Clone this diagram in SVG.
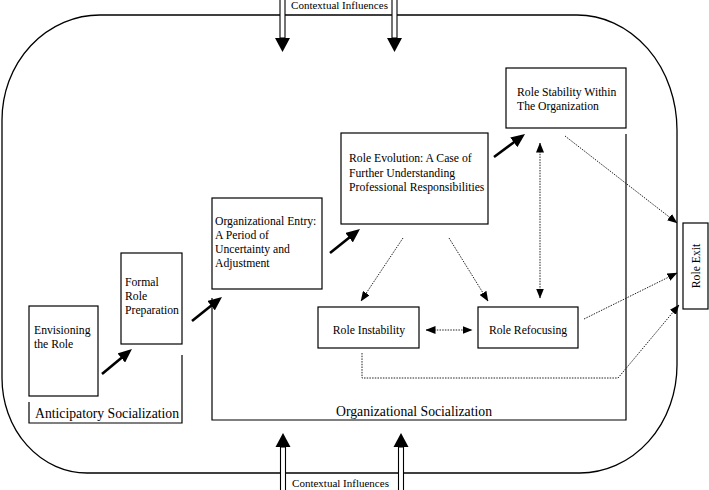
<svg xmlns="http://www.w3.org/2000/svg" width="709" height="490" viewBox="0 0 709 490">
<style>
  text { font-family: "Liberation Serif", "Times New Roman", serif; fill: #000; }
  .t { font-size: 11.7px; }
  .lbl { font-size: 13.7px; }
  .ci { font-size: 11px; }
  .box { fill: #fff; stroke: #000; stroke-width: 1.2; }
  .thick { stroke: #000; stroke-width: 2.6; fill: none; marker-end: url(#bigHead); }
  .dot { stroke: #222; stroke-width: 1; stroke-dasharray: 1.5 1.2; fill: none; }
  .brk { stroke: #000; stroke-width: 1.2; fill: none; }
  .shaft { fill: #fff; stroke: #000; stroke-width: 1.1; }
</style>
<defs>
  <marker id="bigHead" markerUnits="userSpaceOnUse" markerWidth="14" markerHeight="12" refX="4" refY="6" orient="auto">
    <path d="M0,0 L14,6 L0,12 z" fill="#000"/>
  </marker>
  <marker id="smHead" markerUnits="userSpaceOnUse" markerWidth="10" markerHeight="8" refX="9.5" refY="4" orient="auto-start-reverse">
    <path d="M0,0 L10,4 L0,8 z" fill="#000"/>
  </marker>
</defs>
<rect width="709" height="490" fill="#fff"/>

<g id="outer">
  <path d="M100,15 L577,15 A100,115 0 0 1 677,130 L677,365 A97,108 0 0 1 580,473 L87,473 A85,95 0 0 1 2,378 L2,120 A98,105 0 0 1 100,15 Z" fill="none" stroke="#000" stroke-width="1.3"/>
</g>

<g id="context-top">
  <rect class="shaft" x="280" y="-2" width="5" height="40"/>
  <path d="M275,38 L290,38 L282.5,52 z" fill="#000"/>
  <rect class="shaft" x="392" y="-2" width="5" height="40"/>
  <path d="M387,38 L402,38 L394.5,52 z" fill="#000"/>
  <text class="ci" x="339.5" y="9" text-anchor="middle">Contextual Influences</text>
</g>

<g id="context-bottom">
  <rect class="shaft" x="280.5" y="447" width="5" height="46"/>
  <path d="M275.5,447 L290.5,447 L283,433 z" fill="#000"/>
  <rect class="shaft" x="398.5" y="447" width="5" height="46"/>
  <path d="M393.5,447 L408.5,447 L401,433 z" fill="#000"/>
  <text class="ci" x="340.5" y="487" text-anchor="middle">Contextual Influences</text>
</g>

<g id="anticipatory-socialization">
  <path class="brk" d="M29,402 L29,423 L182,423 L182,355"/>
  <text class="lbl" x="35" y="418">Anticipatory Socialization</text>
</g>

<g id="organizational-socialization">
  <path class="brk" d="M212,298 L212,420 L626,420 L626,134"/>
  <text class="lbl" x="414" y="416" text-anchor="middle">Organizational Socialization</text>
</g>

<g id="envisioning">
  <rect class="box" x="29" y="306" width="69" height="90"/>
  <text class="t" x="34" y="334">Envisioning</text>
  <text class="t" x="34" y="348">the Role</text>
</g>

<g id="formal-prep">
  <rect class="box" x="121" y="253" width="61" height="91"/>
  <text class="t" x="125" y="286">Formal</text>
  <text class="t" x="125" y="300">Role</text>
  <text class="t" x="125" y="314">Preparation</text>
</g>

<g id="org-entry">
  <rect class="box" x="212" y="198" width="110" height="91"/>
  <text class="t" x="215" y="225">Organizational Entry:</text>
  <text class="t" x="215" y="239">A Period of</text>
  <text class="t" x="215" y="253">Uncertainty and</text>
  <text class="t" x="215" y="267">Adjustment</text>
</g>

<g id="role-evolution">
  <rect class="box" x="341" y="133" width="147" height="91"/>
  <text class="t" x="349" y="162">Role Evolution: A Case of</text>
  <text class="t" x="349" y="176.5">Further Understanding</text>
  <text class="t" x="349" y="191">Professional Responsibilities</text>
</g>

<g id="role-stability">
  <rect class="box" x="506" y="68" width="120" height="60"/>
  <text class="t" x="517" y="96">Role Stability Within</text>
  <text class="t" x="517" y="110">The Organization</text>
</g>

<g id="role-instability">
  <rect class="box" x="318" y="307" width="101" height="41"/>
  <text class="t" x="369" y="334" text-anchor="middle">Role Instability</text>
</g>

<g id="role-refocusing">
  <rect class="box" x="478" y="307" width="100" height="41"/>
  <text class="t" x="528" y="334" text-anchor="middle">Role Refocusing</text>
</g>

<g id="role-exit">
  <rect class="box" x="683" y="223" width="25" height="86"/>
  <text class="t" transform="translate(700,266) rotate(-90)" text-anchor="middle">Role Exit</text>
</g>

<g id="connectors">
  <line class="thick" x1="102" y1="374" x2="124.3" y2="355.4"/>
  <line class="thick" x1="192" y1="321" x2="214.2" y2="303.2"/>
  <line class="thick" x1="330" y1="253" x2="352.2" y2="235.2"/>
  <line class="thick" x1="494" y1="157" x2="517" y2="140"/>

  <line class="dot" x1="403" y1="238" x2="361" y2="301" marker-end="url(#smHead)"/>
  <line class="dot" x1="449" y1="238" x2="488" y2="301" marker-end="url(#smHead)"/>
  <line class="dot" x1="540" y1="143" x2="540" y2="298" marker-start="url(#smHead)" marker-end="url(#smHead)"/>
  <line class="dot" x1="426" y1="330" x2="472" y2="330" marker-start="url(#smHead)" marker-end="url(#smHead)"/>
  <line class="dot" x1="565" y1="136" x2="677" y2="223" marker-end="url(#smHead)"/>
  <line class="dot" x1="584" y1="319" x2="677" y2="273" marker-end="url(#smHead)"/>
  <polyline class="dot" points="362,353 362,378 618,378 679,305" marker-end="url(#smHead)"/>
</g>
</svg>
